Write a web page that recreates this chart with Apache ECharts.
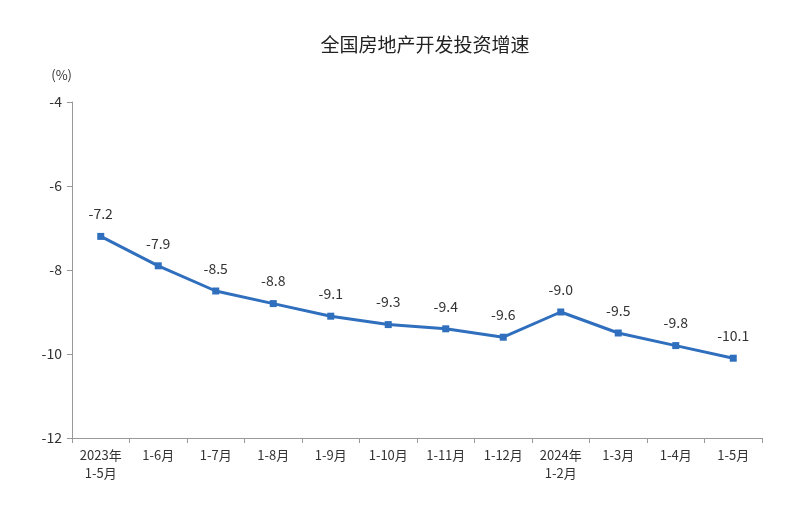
<!DOCTYPE html>
<html><head><meta charset="utf-8">
<script src="https://cdn.jsdelivr.net/npm/echarts@6/dist/echarts.min.js"></script>
<style>html,body{margin:0;padding:0;background:#fff}#c{width:805px;height:525px}</style>
</head><body><div id="c"></div>
<script>
const categories = ['2023年\n1-5月','1-6月','1-7月','1-8月','1-9月','1-10月','1-11月','1-12月','2024年\n1-2月','1-3月','1-4月','1-5月'];
const values = [-7.2,-7.9,-8.5,-8.8,-9.1,-9.3,-9.4,-9.6,-9.0,-9.5,-9.8,-10.1];
const chart = echarts.init(document.getElementById('c'));
const font = '"Noto Sans CJK SC", sans-serif';
chart.setOption({
  animation:false,
  title:{text:'全国房地产开发投资增速',left:420,top:30,textAlign:'center',textStyle:{fontFamily:font,fontSize:19,fontWeight:'normal',color:'#222'}},
  grid:{left:72,right:43,top:102,bottom:87},
  xAxis:{type:'category',data:categories,boundaryGap:true,
    axisLine:{lineStyle:{color:'#999'}},axisTick:{show:true,length:5,lineStyle:{color:'#999'}},
    axisLabel:{color:'#333',fontFamily:font,fontSize:13,lineHeight:18,interval:0}},
  yAxis:{type:'value',min:-12,max:-4,interval:2,name:'(%)',nameLocation:'end',nameGap:20,
    nameTextStyle:{color:'#333',fontFamily:font,fontSize:13,align:'right',padding:[0,0,0,0]},
    axisLine:{show:true,lineStyle:{color:'#999'}},axisTick:{show:true,length:5,lineStyle:{color:'#999'}},
    splitLine:{show:false},axisLabel:{color:'#333',fontFamily:font,fontSize:14,margin:10}},
  series:[{type:'line',data:values,symbol:'rect',symbolSize:7,
    lineStyle:{color:'#2f6fbd',width:3},itemStyle:{color:'#2f6fbd'},
    label:{show:true,position:'top',distance:12,color:'#333',fontFamily:font,fontSize:14,
      formatter:p=>p.value.toFixed(1)}}]
});
</script></body></html>
